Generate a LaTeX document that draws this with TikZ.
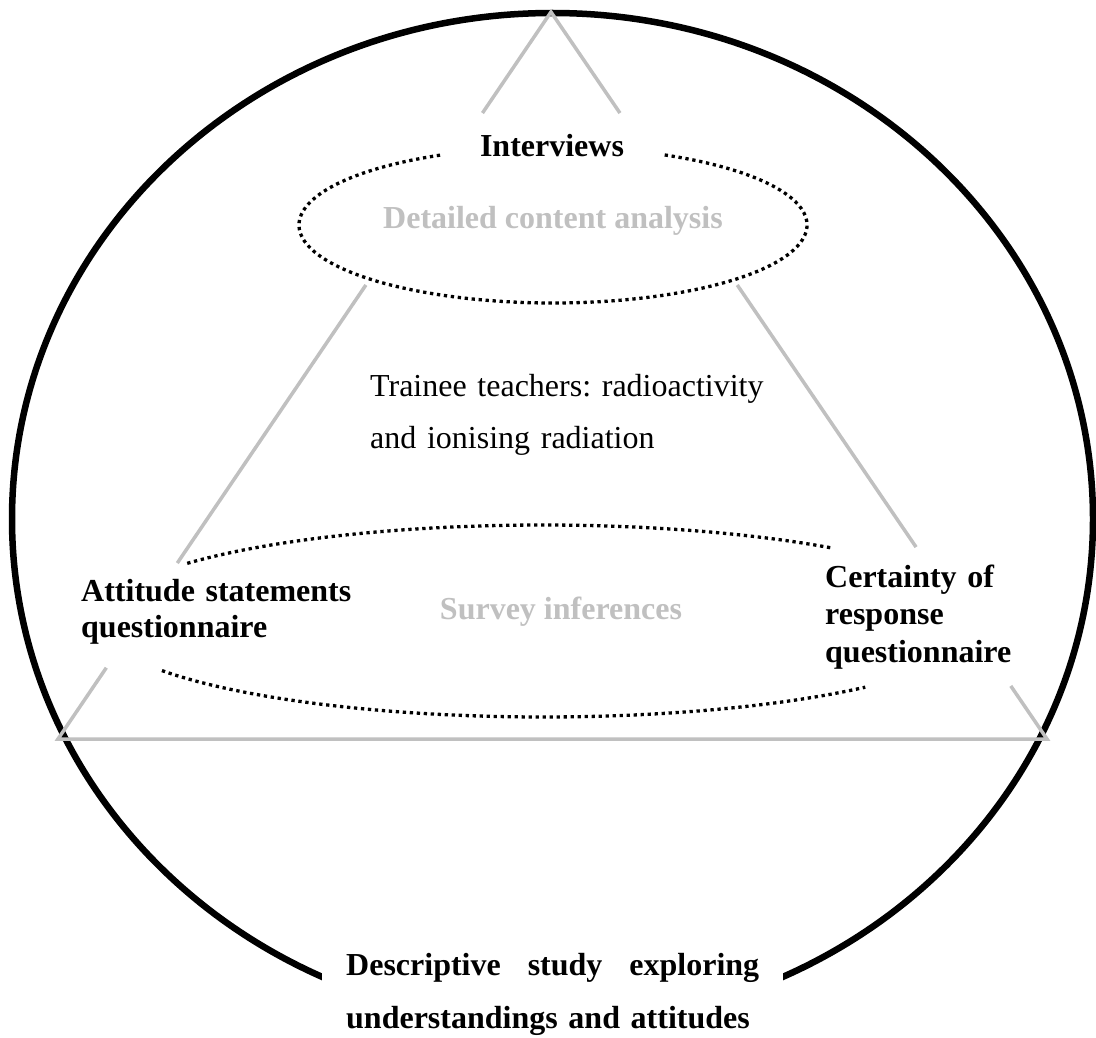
\documentclass[tikz,border=0pt]{standalone}
\usepackage{fontspec}
\setmainfont{Liberation Serif}
\usetikzlibrary{calc}
\definecolor{silver}{HTML}{C0C0C0}
\begin{document}
\frenchspacing
\begin{tikzpicture}[x=1pt,y=1pt,
  frame/.style={line width=6.5pt,draw=black},
  guide/.style={line width=3.5pt,draw=silver,line join=miter},
  dotline/.style={line width=3.3pt,draw=black,dash pattern=on 3.3pt off 3.7pt},
  lbl/.style={inner sep=0pt,font=\fontsize{32}{37}\selectfont},
  heading/.style={lbl,font=\fontsize{32}{37}\selectfont\bfseries},
  faint/.style={heading,text=silver}]

\useasboundingbox (0,0) rectangle (1096,-1038);
\fill[white] (0,0) rectangle (1096,-1038);

% outer boundary of the study
\draw[frame] (552.5,-519) ellipse [x radius=540.5, y radius=506];

% triangle of methods
\coordinate (apex) at (551,-12);
\coordinate (baseL) at (58,-739);
\coordinate (baseR) at (1047,-739);
\draw[guide] ($(apex)!0.139!(baseL)$) -- (apex) -- ($(apex)!0.139!(baseR)$);
\draw[guide] ($(apex)!0.3755!(baseL)$) -- ($(apex)!0.758!(baseL)$);
\draw[guide] ($(apex)!0.3755!(baseR)$) -- ($(apex)!0.736!(baseR)$);
\draw[guide] ($(apex)!0.902!(baseL)$) -- (baseL) -- (baseR) -- ($(apex)!0.927!(baseR)$);

% interview analysis ring
\coordinate (topc) at (553,-225);
\draw[dotline] ($(topc)+(116.4:254 and 78)$)
  arc[start angle=116.4, end angle=424.3, x radius=254, y radius=78];

% survey ring
\coordinate (lowc) at (543,-621);
\draw[dotline] ($(lowc)+(49.8:445 and 96)$)
  arc[start angle=49.8, end angle=143.5, x radius=445, y radius=96];
\draw[dotline] ($(lowc)+(211.1:445 and 96)$)
  arc[start angle=211.1, end angle=316.4, x radius=445, y radius=96];

% labels
\node[heading,anchor=base] (interviews) at (552,-157) {Interviews};
\node[faint,anchor=base] (content) at (553,-229) {Detailed content analysis};
\node[lbl,anchor=base west,text width=420pt,align=left,
      font=\fontsize{32}{52}\selectfont] (topic) at (370,-396)
  {Trainee teachers: radioactivity\\and ionising radiation};
\node[heading,anchor=base west,text width=300pt,align=left,
      font=\fontsize{32}{36}\selectfont\bfseries] (attitude) at (81,-601)
  {Attitude statements\\questionnaire};
\node[faint,anchor=base] (survey) at (561,-619) {Survey inferences};
\node[heading,anchor=base west,text width=250pt,align=left,
      font=\fontsize{32}{37.5}\selectfont\bfseries] (certainty) at (825,-587)
  {Certainty of\\response\\questionnaire};
\node[heading,anchor=base west,text width=413pt,align=left,
      inner xsep=24pt,inner ysep=8pt,fill=white,
      font=\fontsize{32}{53}\selectfont\bfseries] (study) at (322,-975)
  {\leavevmode\hbox to 413pt{Descriptive\hfill study\hfill exploring}\\understandings and attitudes};
\end{tikzpicture}
\end{document}
